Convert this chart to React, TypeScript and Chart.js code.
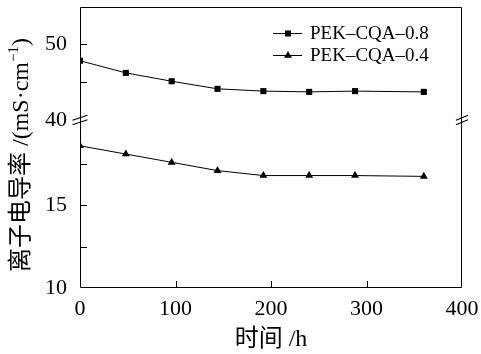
import React, { useEffect, useRef } from "react";
import { Chart, registerables } from "chart.js";

Chart.register(...registerables);

const hours = [0, 48, 96, 144, 192, 240, 288, 360];
const cqa08 = [47.8, 46.2, 45.1, 44.1, 43.8, 43.7, 43.8, 43.7];
const cqa04 = [18.6, 18.1, 17.6, 17.1, 16.8, 16.8, 16.8, 16.75];
const seriesNames = ["PEK–CQA–0.8", "PEK–CQA–0.4"];
const xTicks = [0, 100, 200, 300, 400];
const upperTicks = [40, 45, 50];
const lowerTicks = [10, 12.5, 15, 17.5];
const upperLabeled = [40, 50];
const lowerLabeled = [10, 15];
const xTitle = "时间 /h";
const yTitleMain = "离子电导率 /(mS·cm";
const yTitleSup = "−1";
const yTitleEnd = ")";

const FONT = "'Liberation Serif', 'Times New Roman', 'Noto Sans CJK SC', serif";

function drawMarker(ctx: CanvasRenderingContext2D, style: string, x: number, y: number, r: number) {
  ctx.beginPath();
  if (style === "rect") {
    const s = r * Math.SQRT1_2;
    ctx.rect(x - s, y - s, 2 * s, 2 * s);
  } else {
    const a = Math.PI / 6;
    ctx.moveTo(x, y - r);
    ctx.lineTo(x + Math.cos(a) * r, y + Math.sin(a) * r);
    ctx.lineTo(x - Math.cos(a) * r, y + Math.sin(a) * r);
    ctx.closePath();
  }
  ctx.fill();
}

const framePlugin = {
  id: "frameDecor",
  afterDraw(chart: any) {
    const { ctx, chartArea } = chart;
    const { left, right, top, bottom } = chartArea;
    ctx.save();
    ctx.strokeStyle = "#000";
    ctx.lineWidth = 1;
    ctx.beginPath();
    ctx.rect(left + 0.5, top + 0.5, right - left - 1, bottom - top - 1);
    ctx.stroke();

    const tickLen = 7;
    const xs = chart.scales.x;
    ctx.beginPath();
    xs.ticks.forEach((t: any) => {
      if (t.value <= xs.min || t.value >= xs.max) return;
      const px = Math.round(xs.getPixelForValue(t.value)) + 0.5;
      ctx.moveTo(px, bottom);
      ctx.lineTo(px, bottom - tickLen);
    });
    ["yLow", "yHigh"].forEach((id) => {
      const s = chart.scales[id];
      s.ticks.forEach((t: any) => {
        if (t.value <= s.min || t.value >= s.max) return;
        const py = Math.round(s.getPixelForValue(t.value)) + 0.5;
        ctx.moveTo(left, py);
        ctx.lineTo(left + tickLen, py);
      });
    });
    ctx.stroke();

    // axis break marks
    const by = chart.scales.yHigh.bottom;
    const drawBreak = (cx: number, w: number) => {
      ctx.beginPath();
      [-2.2, 2.2].forEach((off) => {
        ctx.moveTo(cx - w / 2, by + off + 2.5);
        ctx.lineTo(cx + w / 2, by + off - 2.5);
      });
      ctx.stroke();
    };
    ctx.lineWidth = 1.1;
    drawBreak(left, 15);
    drawBreak(right, 12);

    // legend
    const legendY = [top + 26, top + 48];
    [0, 1].forEach((i) => {
      const ds = chart.data.datasets[i];
      const y = legendY[i];
      ctx.strokeStyle = "#000";
      ctx.lineWidth = 1;
      ctx.beginPath();
      ctx.moveTo(273, y + 0.5);
      ctx.lineTo(302, y + 0.5);
      ctx.stroke();
      ctx.fillStyle = "#000";
      drawMarker(ctx, ds.pointStyle, 288, y + 0.5, ds.pointRadius);
      ctx.font = `19px ${FONT}`;
      ctx.textBaseline = "middle";
      ctx.textAlign = "left";
      ctx.fillText(seriesNames[i], 310, y + 1);
    });

    // y title
    ctx.save();
    ctx.translate(22, 155);
    ctx.rotate(-Math.PI / 2);
    ctx.fillStyle = "#000";
    ctx.textBaseline = "middle";
    ctx.textAlign = "left";
    const mainFont = `24px ${FONT}`;
    const supFont = `15px ${FONT}`;
    ctx.font = mainFont;
    const w1 = ctx.measureText(yTitleMain).width;
    const w3 = ctx.measureText(yTitleEnd).width;
    ctx.font = supFont;
    const w2 = ctx.measureText(yTitleSup).width;
    const total = w1 + w2 + w3;
    let x0 = -total / 2;
    ctx.font = mainFont;
    ctx.fillText(yTitleMain, x0, 0);
    x0 += w1;
    ctx.font = supFont;
    ctx.fillText(yTitleSup, x0, -8);
    x0 += w2;
    ctx.font = mainFont;
    ctx.fillText(yTitleEnd, x0, 0);
    ctx.restore();

    ctx.restore();
  },
};

const yFit = (s: any) => {
  s.width = 80;
  s.paddingTop = 0;
  s.paddingBottom = 0;
};

export default function App() {
  const ref = useRef<HTMLCanvasElement | null>(null);
  useEffect(() => {
    if (!ref.current) return;
    const chart = new Chart(ref.current, {
      type: "line",
      data: {
        datasets: [
          {
            label: seriesNames[0],
            data: hours.map((h, i) => ({ x: h, y: cqa08[i] })),
            yAxisID: "yHigh",
            borderColor: "#000",
            backgroundColor: "#000",
            borderWidth: 1,
            pointStyle: "rect",
            pointRadius: 4.3,
            pointBorderWidth: 0,
            tension: 0,
          },
          {
            label: seriesNames[1],
            data: hours.map((h, i) => ({ x: h, y: cqa04[i] })),
            yAxisID: "yLow",
            borderColor: "#000",
            backgroundColor: "#000",
            borderWidth: 1,
            pointStyle: "triangle",
            pointRadius: 4.6,
            pointBorderWidth: 0,
            tension: 0,
          },
        ],
      },
      options: {
        responsive: false,
        animation: false,
        events: [],
        layout: { padding: { top: 7, right: 19, left: 0, bottom: 0 }, autoPadding: false },
        plugins: { legend: { display: false }, tooltip: { enabled: false } },
        scales: {
          x: {
            type: "linear",
            min: 0,
            max: 400,
            afterBuildTicks: (s: any) => {
              s.ticks = xTicks.map((v) => ({ value: v }));
            },
            afterFit: (s: any) => {
              s.height = 66;
              s.paddingLeft = 0;
              s.paddingRight = 0;
            },
            grid: { display: false, drawTicks: false },
            border: { display: false },
            ticks: {
              color: "#000",
              font: { family: FONT, size: 22 },
              padding: 8,
              maxRotation: 0,
              autoSkip: false,
            },
            title: {
              display: true,
              text: xTitle,
              color: "#000",
              font: { family: FONT, size: 24 },
              padding: { top: 2, bottom: 0 },
            },
          },
          yLow: {
            type: "linear",
            position: "left",
            stack: "y",
            stackWeight: 168,
            min: 10,
            max: 20.16,
            afterBuildTicks: (s: any) => {
              s.ticks = lowerTicks.map((v) => ({ value: v }));
            },
            afterFit: yFit,
            grid: { display: false, drawTicks: false },
            border: { display: false },
            ticks: {
              color: "#000",
              font: { family: FONT, size: 22 },
              padding: 13,
              autoSkip: false,
              callback: (v: any) => (lowerLabeled.includes(Number(v)) ? String(v) : ""),
            },
          },
          yHigh: {
            type: "linear",
            position: "left",
            stack: "y",
            stackWeight: 113,
            min: 40,
            max: 54.87,
            afterBuildTicks: (s: any) => {
              s.ticks = upperTicks.map((v) => ({ value: v }));
            },
            afterFit: yFit,
            grid: { display: false, drawTicks: false },
            border: { display: false },
            ticks: {
              color: "#000",
              font: { family: FONT, size: 22 },
              padding: 13,
              autoSkip: false,
              callback: (v: any) => (upperLabeled.includes(Number(v)) ? String(v) : ""),
            },
          },
        },
      },
      plugins: [framePlugin],
    } as any);
    return () => chart.destroy();
  }, []);
  return (
    <div style={{ position: "fixed", left: 0, top: 0, width: 481, height: 354, background: "#fff" }}>
      <canvas ref={ref} width={481} height={354} style={{ display: "block" }} />
    </div>
  );
}
